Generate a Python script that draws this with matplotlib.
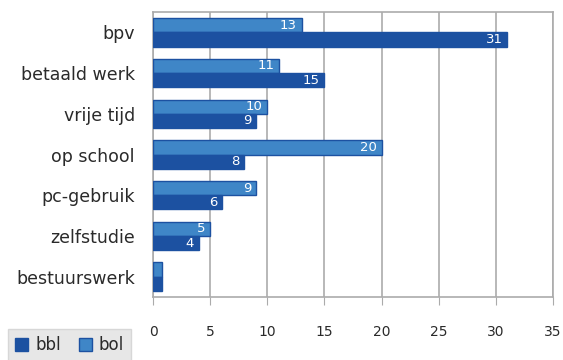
import matplotlib
matplotlib.use("Agg")
import matplotlib.pyplot as plt
import numpy as np
from matplotlib.patches import Patch

categories = ["bpv", "betaald werk", "vrije tijd", "op school", "pc-gebruik", "zelfstudie", "bestuurswerk"]
bbl = [31, 15, 9, 8, 6, 4, 0.8]
bol = [13, 11, 10, 20, 9, 5, 0.8]
bbl_labels = ["31", "15", "9", "8", "6", "4", ""]
bol_labels = ["13", "11", "10", "20", "9", "5", ""]
x_ticks = [0, 5, 10, 15, 20, 25, 30, 35]

c_bbl = "#1C51A1"
c_bol = "#3F86C7"
grid_c = "#ABABAB"
text_c = "#2A2A2A"

fig = plt.figure(figsize=(5.63, 3.6), dpi=100)
ax = fig.add_axes([153 / 563, 1 - 297 / 360, 400 / 563, 285 / 360])

y = np.arange(len(categories))
h = 0.35
ax.barh(y - h / 2, bol, height=h, color=c_bol, edgecolor=c_bbl, linewidth=1, zorder=3)
ax.barh(y + h / 2, bbl, height=h, color=c_bbl, edgecolor=c_bbl, linewidth=1, zorder=3)

for yi, v, t in zip(y, bol, bol_labels):
    if t:
        ax.text(v - 0.4, yi - h / 2, t, ha="right", va="center", color="white", fontsize=9.5, zorder=4)
for yi, v, t in zip(y, bbl, bbl_labels):
    if t:
        ax.text(v - 0.4, yi + h / 2, t, ha="right", va="center", color="white", fontsize=9.5, zorder=4)

ax.set_xlim(0, 35)
ax.set_ylim(len(categories) - 0.5, -0.5)
ax.set_xticks(x_ticks)
ax.set_xticklabels([str(t) for t in x_ticks], fontsize=10, color=text_c)
ax.set_yticks(y)
ax.set_yticklabels(categories, fontsize=12.5, color=text_c)
ax.tick_params(axis="y", length=0, pad=13)
ax.tick_params(axis="x", length=6, color=grid_c, pad=14)

ax.grid(axis="x", color=grid_c, linewidth=1.2, zorder=0)
for s in ax.spines.values():
    s.set_color(grid_c)
    s.set_linewidth(1.2)

handles = [Patch(facecolor=c_bbl, edgecolor=c_bbl, label="bbl"),
           Patch(facecolor=c_bol, edgecolor=c_bbl, label="bol")]
leg = fig.legend(handles=handles, loc="lower left", bbox_to_anchor=(0 / 563, -0.025),
                 ncol=2, frameon=True, fontsize=12, handlelength=0.8, handleheight=0.8,
                 handletextpad=0.4, columnspacing=1.1, borderpad=0.4, fancybox=False)
leg.get_frame().set_facecolor("#E1E1E1")
leg.get_frame().set_edgecolor("#D0D0D0")
for t in leg.get_texts():
    t.set_color(text_c)

fig.savefig("out.png", dpi=100)
